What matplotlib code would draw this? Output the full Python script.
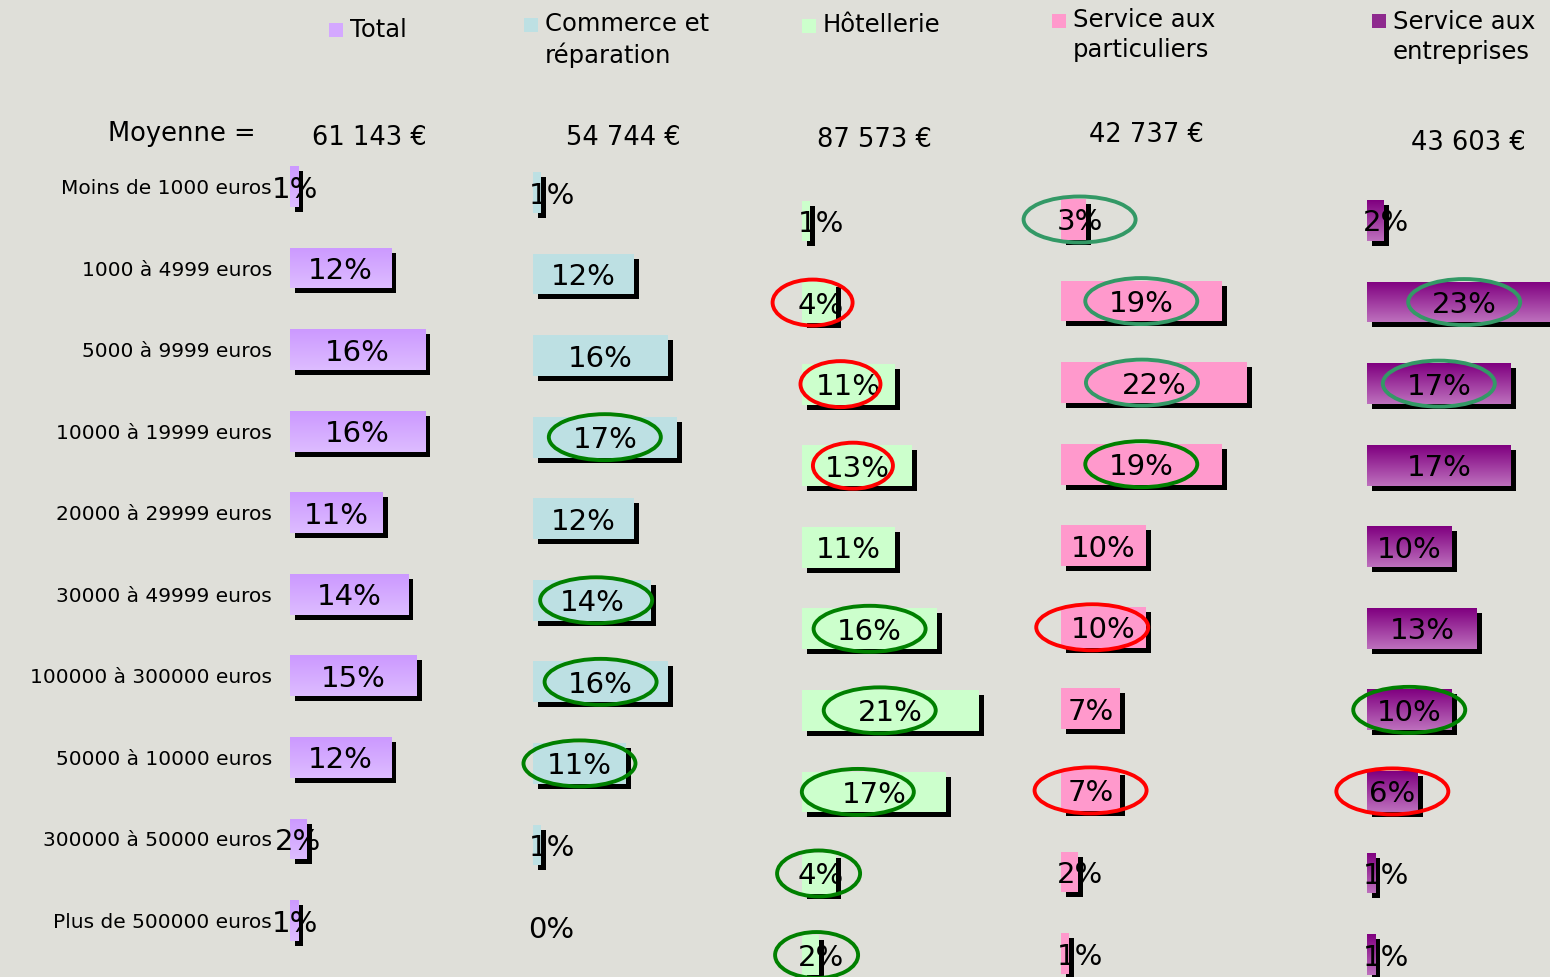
import matplotlib
matplotlib.use("Agg")
import matplotlib.pyplot as plt
import numpy as np
from matplotlib.patches import Ellipse, Rectangle
from matplotlib.colors import LinearSegmentedColormap
from matplotlib.transforms import offset_copy

# --- data ---
categories = ["Moins de 1000 euros", "1000 à 4999 euros", "5000 à 9999 euros",
              "10000 à 19999 euros", "20000 à 29999 euros", "30000 à 49999 euros",
              "100000 à 300000 euros", "50000 à 10000 euros", "300000 à 50000 euros",
              "Plus de 500000 euros"]
total = [1, 12, 16, 16, 11, 14, 15, 12, 2, 1]
commerce = [1, 12, 16, 17, 12, 14, 16, 11, 1, 0]
hotellerie = [1, 4, 11, 13, 11, 16, 21, 17, 4, 2]
serv_part = [3, 19, 22, 19, 10, 10, 7, 7, 2, 1]
serv_ent = [2, 23, 17, 17, 10, 13, 10, 6, 1, 1]
series = [total, commerce, hotellerie, serv_part, serv_ent]
series_names = ["Total", "Commerce et\nréparation", "Hôtellerie",
                "Service aux\nparticuliers", "Service aux\nentreprises"]
moyennes = ["61 143 €", "54 744 €", "87 573 €", "42 737 €", "43 603 €"]

# circled labels: (panel, row, colour)
TEAL, DKGREEN, RED = "#339966", "#008000", "#ff0000"
highlights = [
    (1, 3, DKGREEN), (1, 5, DKGREEN), (1, 6, DKGREEN), (1, 7, DKGREEN),
    (2, 1, RED), (2, 2, RED), (2, 3, RED), (2, 5, DKGREEN), (2, 6, DKGREEN),
    (2, 7, DKGREEN), (2, 8, DKGREEN), (2, 9, DKGREEN),
    (3, 0, TEAL), (3, 1, TEAL), (3, 2, TEAL), (3, 3, DKGREEN), (3, 5, RED), (3, 7, RED),
    (4, 1, TEAL), (4, 2, TEAL), (4, 6, DKGREEN), (4, 7, RED),
]
# ellipse size / shift tweaks in pixels (width, dx)
ell_style = {(2, 1): (80, -8), (2, 2): (80, -8), (2, 3): (80, -4), (2, 6): (112, -11),
             (2, 7): (112, -16), (2, 8): (83, -2), (2, 9): (83, -4),
             (3, 2): (112, -12), (3, 5): (112, -11), (1, 5): (112, 4)}

# --- layout (pixels) ---
W, H = 1550, 977
BG = "#dfdfd9"
PX = 8.45          # pixels per percent
SP = 81.56         # pixels per row
bar_left = [290, 533, 802, 1061, 1367]
row0 = [186.5, 192.5, 221, 219.5, 220.5]
label_min = [0.65, 2.2, 2.2, 2.2, 2.2]
grad_top = ["#cc99ff", "#bde0e3", "#ccffcc", "#ff99cc", "#800080"]
grad_bot = ["#ddbcff", "#bde0e3", "#ccffcc", "#ff99cc", "#bd70bd"]
legend_sq = ["#d4a8ff", "#bde0e3", "#ccffcc", "#ff99cc", "#8e2a8e"]

fig = plt.figure(figsize=(W / 100, H / 100), dpi=100, facecolor=BG)

axes = []
for i, vals in enumerate(series):
    top = row0[i] - SP / 2
    ax = fig.add_axes([bar_left[i] / W, 1 - (top + 10 * SP) / H, 30 * PX / W, 10 * SP / H])
    ax.patch.set_visible(False)
    for s in ax.spines.values():
        s.set_visible(False)
    y = np.arange(len(vals))
    h = 0.5
    shadow = offset_copy(ax.transData, fig=fig, x=5, y=-5, units="dots")
    ax.barh(y, vals, height=h, color="black", transform=shadow, zorder=1)
    bars = ax.barh(y, vals, height=h, color=grad_top[i], zorder=2)
    if grad_top[i] != grad_bot[i]:
        cmap = LinearSegmentedColormap.from_list("g%d" % i, [grad_top[i], grad_bot[i]])
        grad = np.linspace(0, 1, 64).reshape(-1, 1)
        for b in bars:
            if b.get_width() <= 0:
                continue
            im = ax.imshow(grad, cmap=cmap, aspect="auto", zorder=3,
                           extent=(b.get_x(), b.get_x() + b.get_width(),
                                   b.get_y() + b.get_height(), b.get_y()))
            im.set_clip_path(b)
    for r, v in enumerate(vals):
        ax.text(max(v / 2, label_min[i]), r, "%d%%" % v, ha="center", va="center_baseline",
                fontsize=21, zorder=5, clip_on=False)
    ax.set_xlim(0, 30)
    ax.set_ylim(9.5, -0.5)
    ax.set_xticks([])
    if i == 0:
        ax.set_yticks(y)
        ax.set_yticklabels(categories, fontsize=14.5)
        ax.tick_params(axis="y", length=0, pad=13)
    else:
        ax.set_yticks([])
    axes.append(ax)

for (p, r, c) in highlights:
    v = series[p][r]
    w, dx = ell_style.get((p, r), (112, 0))
    cx = max(v / 2, label_min[p]) + dx / PX
    axes[p].add_patch(Ellipse((cx, r), w / PX, 46 / SP, fill=False, edgecolor=c,
                              lw=2.8, zorder=6, clip_on=False))

# legend entries
leg_text = [(350, 30), (545, 40), (823, 25), (1073, 35), (1393, 37)]
leg_sq = [(329, 23), (524, 18), (802, 19), (1052, 14), (1372, 14)]
for i, name in enumerate(series_names):
    tx, ty = leg_text[i]
    fig.text(tx / W, 1 - ty / H, name, fontsize=17.5, ha="left", va="center",
             linespacing=1.3)
    sx, sy = leg_sq[i]
    fig.patches.append(Rectangle((sx / W, 1 - (sy + 14) / H), 14 / W, 14 / H,
                                 transform=fig.transFigure, facecolor=legend_sq[i],
                                 edgecolor="none"))

# moyennes
fig.text(108 / W, 1 - 134 / H, "Moyenne =", fontsize=18.5, ha="left", va="center")
moy_pos = [(369, 138), (623, 138), (874, 140), (1146, 135), (1468, 143)]
for (mx, my), m in zip(moy_pos, moyennes):
    fig.text(mx / W, 1 - my / H, m, fontsize=18.5, ha="center", va="center")

fig.savefig("out.png", dpi=100, facecolor=BG)
